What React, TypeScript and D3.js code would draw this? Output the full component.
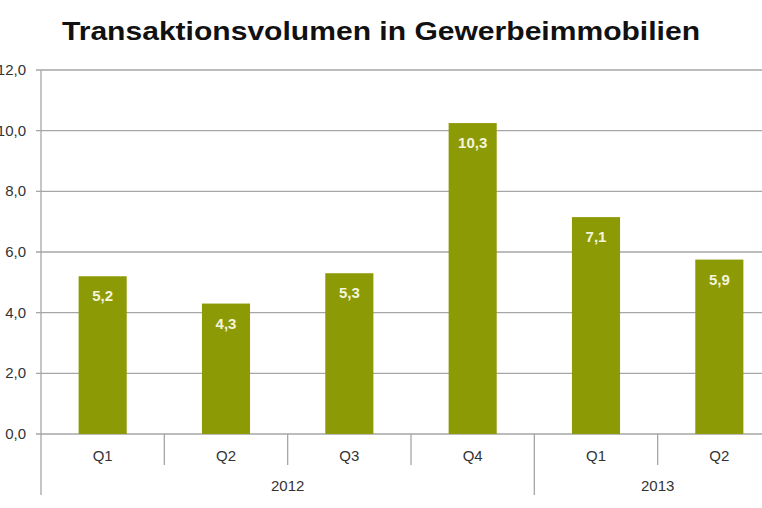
import React from "react";
import { scaleLinear, scaleBand, range } from "d3";

const quarters = ["Q1", "Q2", "Q3", "Q4", "Q1", "Q2"];
const volumes = [5.2, 4.3, 5.3, 10.25, 7.15, 5.75];
const valueLabels = ["5,2", "4,3", "5,3", "10,3", "7,1", "5,9"];
const years = ["2012", "2013"];
const yearSpans = [4, 2];
const yTicks = [0, 2, 4, 6, 8, 10, 12];

const W = 762;
const H = 508;
const left = 41;
const right = 781;
const top = 70;
const bottom = 434;
const barColor = "#8c9a06";
const gridColor = "#a6a6a6";
const font = "Arial, 'Liberation Sans', sans-serif";

function App() {
  const x = scaleBand<number>()
    .domain(range(quarters.length))
    .range([left, right])
    .paddingInner(0.61)
    .paddingOuter(0.305);
  const step = (right - left) / quarters.length;
  const y = scaleLinear().domain([0, 12]).range([bottom, top]);

  let acc = 0;
  const yearBlocks = years.map((yr, i) => {
    const start = acc;
    acc += yearSpans[i];
    return { yr, start, end: acc };
  });

  return (
    <svg
      width={W}
      height={H}
      style={{ position: "absolute", left: 0, top: 0, background: "#fff" }}
    >
      <text
        x={62}
        y={40}
        textLength={638}
        lengthAdjust="spacingAndGlyphs"
        fontFamily={font}
        fontWeight="bold"
        fontSize={26}
        fill="#111"
      >
        Transaktionsvolumen in Gewerbeimmobilien
      </text>

      {yTicks.map((t) => (
        <g key={t}>
          <line
            x1={left - 5}
            x2={right}
            y1={y(t)}
            y2={y(t)}
            stroke={gridColor}
            strokeWidth={1.3}
          />
          <text
            x={26}
            y={y(t) + 5}
            textAnchor="end"
            fontFamily={font}
            fontSize={15}
            fill="#333"
          >
            {t.toFixed(1).replace(".", ",")}
          </text>
        </g>
      ))}

      {volumes.map((v, i) => (
        <g key={i}>
          <rect
            x={x(i)}
            y={y(v)}
            width={x.bandwidth()}
            height={bottom - y(v)}
            fill={barColor}
          />
          <text
            x={(x(i) as number) + x.bandwidth() / 2}
            y={y(v) + 25}
            textAnchor="middle"
            fontFamily={font}
            fontWeight="bold"
            fontSize={15}
            fill="#f4f4dc"
          >
            {valueLabels[i]}
          </text>
          <text
            x={left + step * (i + 0.5)}
            y={461}
            textAnchor="middle"
            fontFamily={font}
            fontSize={15}
            fill="#333"
          >
            {quarters[i]}
          </text>
        </g>
      ))}

      <line x1={left} x2={left} y1={top} y2={495} stroke={gridColor} strokeWidth={1.3} />
      {range(1, quarters.length).map((i) => {
        const isYear = yearBlocks.some((b) => b.start === i);
        return (
          <line
            key={i}
            x1={left + step * i}
            x2={left + step * i}
            y1={bottom}
            y2={isYear ? 495 : 465}
            stroke={gridColor}
            strokeWidth={1.3}
          />
        );
      })}
      {yearBlocks.map((b) => (
        <text
          key={b.yr}
          x={left + step * ((b.start + b.end) / 2)}
          y={491}
          textAnchor="middle"
          fontFamily={font}
          fontSize={15}
          fill="#333"
        >
          {b.yr}
        </text>
      ))}
    </svg>
  );
}

export default App;
